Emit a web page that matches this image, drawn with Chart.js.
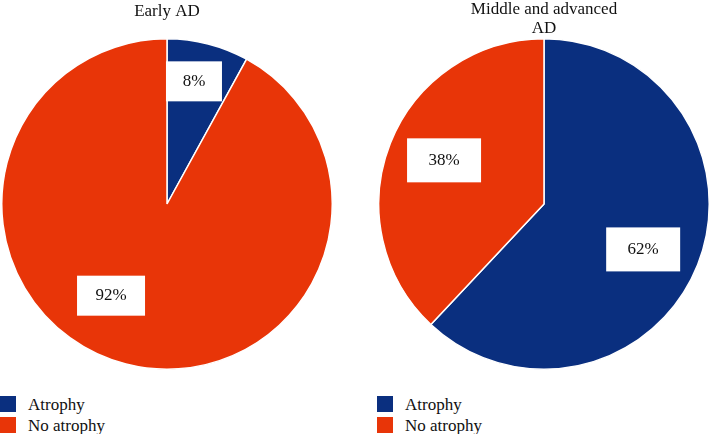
<!DOCTYPE html>
<html>
<head>
<meta charset="utf-8">
<script src="https://cdn.jsdelivr.net/npm/chart.js@4"></script>
<style>
  body { margin: 0; background: #fff; width: 710px; height: 434px; overflow: hidden; position: relative; font-family: "Liberation Serif", "Times New Roman", "DejaVu Serif", serif; }
  .wrap { position: absolute; top: 0; }
  .legend { position: absolute; font-size: 17px; color: #111; }
  .legend div { position: relative; height: 21px; line-height: 21px; padding-left: 28px; }
  .legend span { position: absolute; left: 0; top: 2px; width: 16px; height: 16px; }
</style>
</head>
<body>
<div class="wrap" style="left:0;width:334px;height:370px"><canvas id="early"></canvas></div>
<div class="wrap" style="left:377px;width:334px;height:370px"><canvas id="late"></canvas></div>
<div class="legend" id="legend1" style="left:0;top:394px"></div>
<div class="legend" id="legend2" style="left:377px;top:394px"></div>
<script>
const categories = ['Atrophy', 'No atrophy'];
const earlyValues = [8, 92];
const lateValues = [62, 38];
const colors = ['#0a2f7f', '#e83508'];

const font = '"Liberation Serif", "Times New Roman", "DejaVu Serif", serif';

// white boxes with the percentage, placed along each slice
const boxLabels = {
  id: 'boxLabels',
  afterDatasetsDraw(chart, args, opts) {
    const ctx = chart.ctx;
    const meta = chart.getDatasetMeta(0);
    const data = chart.data.datasets[0].data;
    meta.data.forEach((arc, i) => {
      const p = opts.place[i];
      const mid = (arc.startAngle + arc.endAngle) / 2 + p.shift * Math.PI / 180;
      const r = arc.outerRadius * p.fr;
      const x = arc.x + Math.cos(mid) * r;
      const y = arc.y + Math.sin(mid) * r;
      ctx.save();
      ctx.fillStyle = '#fff';
      ctx.fillRect(x - p.w / 2, y - p.h / 2, p.w, p.h);
      ctx.fillStyle = '#111';
      ctx.font = '17px ' + font;
      ctx.textAlign = 'center';
      ctx.textBaseline = 'middle';
      ctx.fillText(data[i] + '%', x, y);
      ctx.restore();
    });
  }
};

function makePie(id, title, values, place, titleLH) {
  return new Chart(document.getElementById(id), {
    type: 'pie',
    data: {
      labels: categories,
      datasets: [{
        data: values,
        backgroundColor: colors,
        borderColor: '#fff',
        borderWidth: 1.5
      }]
    },
    options: {
      responsive: true,
      maintainAspectRatio: false,
      animation: false,
      layout: { padding: 0 },
      plugins: {
        legend: { display: false },
        tooltip: { enabled: false },
        title: {
          display: true,
          text: title,
          color: '#111',
          font: { family: font, size: 17, weight: 'normal', lineHeight: titleLH },
          padding: { top: 0, bottom: 38 - (Array.isArray(title) ? title.length : 1) * 17 * titleLH }
        },
        boxLabels: { place: place }
      }
    },
    plugins: [boxLabels]
  });
}

makePie('early', 'Early AD', earlyValues, [
  { fr: 0.76, shift: -2, w: 56, h: 40 },
  { fr: 0.65, shift: 17, w: 68, h: 40 }
], 1.4);

makePie('late', ['Middle and advanced', 'AD'], lateValues, [
  { fr: 0.66, shift: 3, w: 74, h: 44 },
  { fr: 0.66, shift: 2, w: 74, h: 44 }
], 1.1);

function buildLegend(id) {
  const el = document.getElementById(id);
  categories.forEach((c, i) => {
    const row = document.createElement('div');
    const sw = document.createElement('span');
    sw.style.background = colors[i];
    row.appendChild(sw);
    row.appendChild(document.createTextNode(c));
    el.appendChild(row);
  });
}
buildLegend('legend1');
buildLegend('legend2');
</script>
</body>
</html>
